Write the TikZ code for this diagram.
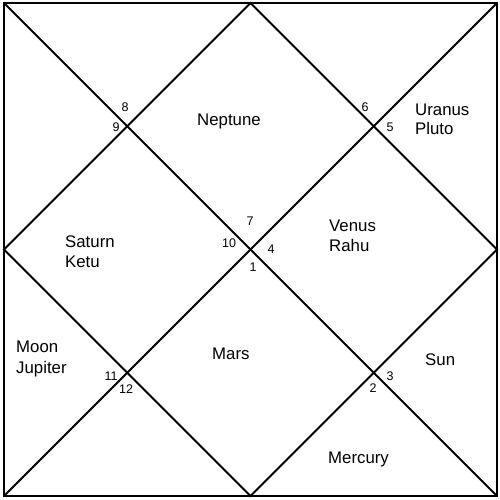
\documentclass[tikz,border=0pt]{standalone}
\usepackage{fontspec}
\setmainfont{Liberation Sans}
\begin{document}
\begin{tikzpicture}[x=1pt,y=-1pt,
  frame/.style={line width=2.8pt},
  chartline/.style={line width=2.1pt},
  planet/.style={anchor=base west,inner sep=0pt,font=\fontsize{16.8}{19}\selectfont},
  house/.style={anchor=center,inner sep=0pt,font=\fontsize{12.5}{14}\selectfont}]
\useasboundingbox (0,0) rectangle (500,500);
\coordinate (tl) at (4,3);
\coordinate (tr) at (497,3);
\coordinate (br) at (497,496);
\coordinate (bl) at (4,496);
\coordinate (tm) at (250.5,3);
\coordinate (rm) at (497,249.5);
\coordinate (bm) at (250.5,496);
\coordinate (lm) at (4,249.5);
\draw[chartline] (tl) -- (br);
\draw[chartline] (tr) -- (bl);
\draw[chartline] (tm) -- (rm) -- (bm) -- (lm) -- cycle;
\draw[frame] (tl) rectangle (br);
% planets
\node[planet] (nep) at (197,125) {Neptune};
\node[planet] (ura) at (415,116) {Uranus};
\node[planet] (plu) at (415,135) {Pluto};
\node[planet] (sat) at (65,247) {Saturn};
\node[planet] (ket) at (65,267) {Ketu};
\node[planet] (ven) at (329,231) {Venus};
\node[planet] (rah) at (329,251) {Rahu};
\node[planet] (moo) at (16,352) {Moon};
\node[planet] (jup) at (16,373) {Jupiter};
\node[planet] (mar) at (212,359) {Mars};
\node[planet] (sun) at (425,365) {Sun};
\node[planet] (mer) at (328,463) {Mercury};
% house numbers
\node[house] (h8) at (125,107) {8};
\node[house] (h9) at (116,127) {9};
\node[house] (h7) at (250,221) {7};
\node[house] (h10) at (229,243) {10};
\node[house] (h4) at (271,249) {4};
\node[house] (h1) at (253,267) {1};
\node[house] (h6) at (365,107) {6};
\node[house] (h5) at (390,127) {5};
\node[house] (h11) at (111,376) {11};
\node[house] (h12) at (126,389) {12};
\node[house] (h3) at (390,376) {3};
\node[house] (h2) at (373,388) {2};
\end{tikzpicture}
\end{document}
